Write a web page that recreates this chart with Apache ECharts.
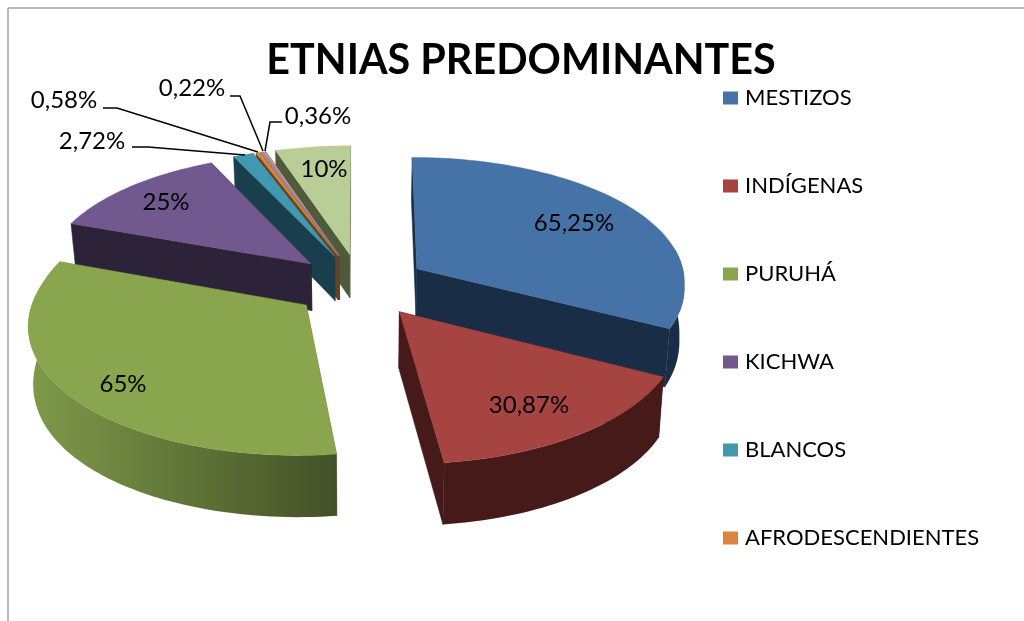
<!DOCTYPE html>
<html>
<head>
<meta charset="utf-8">
<style>html,body{margin:0;padding:0;background:#fff}#c{width:1024px;height:621px}</style>
<script src="https://cdn.jsdelivr.net/npm/echarts@6/dist/echarts.min.js"></script>
</head>
<body>
<div id="c"></div>
<script>
const titleText = 'ETNIAS PREDOMINANTES';
const categories = ['MESTIZOS','INDÍGENAS','PURUHÁ','KICHWA','BLANCOS','AFRODESCENDIENTES','Categoría 7','Categoría 8','Categoría 9'];
const legendNames = categories.slice(0,6);
const values = [65.25,30.87,65,25,2.72,0.58,0.22,0.36,10];
const valueLabels = ['65,25%','30,87%','65%','25%','2,72%','0,58%','0,22%','0,36%','10%'];
const topColors = ['#4572a7','#a64441','#89a54e','#71588f','#4198af','#db843d','#93a9cf','#d19392','#b9cd96'];
const wallColors = ['#1a2d47','#451a19','#6a8040','#2d2339','#193f4c','#6f411b','#3a4a60','#6a3a3a','#4f5a3b'];
const paintZ = [7,9,8,6,5,4,3,2,1];
const labelPos = [[574,223],[529,405],[123,384],[166,202],[92,141],[64,100],[192,88],[318,116],[324,169]];
const leaders = [null,null,null,null,
  [[132,147],[148,147],[245,155]],
  [[103,108],[117,108],[258,152]],
  [[230,96],[240,96],[263,151]],
  [[282,122],[270,122],[265,151]],
  null];

const CX=360, CY=285, RX=269, RY=127, EXPLODE=0.25;
const total = values.reduce((a,b)=>a+b,0);
const DEG = Math.PI/180;
function proj(u,v){
  const sx=1/(1-(v<0?0.09:0.13)*v), sy=1/(1-(v<0?0.11:0.12)*v);
  return {x:CX+RX*u*sx,y:CY+RY*v*sy,s:sy};
}
function low(p){
  const d=42+20*(1-Math.exp(-Math.max(0,p.s-0.97)*23));
  return [CX+(p.x-CX)*0.985,p.y+d];
}

function sliceItem(i){
  return function(params,api){
    const val=api.value(0);
    let before=0; for(let k=0;k<i;k++) before+=values[k];
    const a0=before/total*360, a1=(before+val)/total*360, mid=(a0+a1)/2*DEG;
    const du=Math.sin(mid)*EXPLODE, dv=-Math.cos(mid)*EXPLODE;
    const pt=(deg)=>proj(du+Math.sin(deg*DEG),dv-Math.cos(deg*DEG));
    const apex=proj(du,dv);
    const angles=[]; for(let a=a0;a<a1;a+=1.5) angles.push(a); angles.push(a1);
    const arc=angles.map(pt);
    const top=[[apex.x,apex.y]].concat(arc.map(p=>[p.x,p.y]));
    const kids=[];
    const wall=wallColors[i];
    const quad=(a,b,fill)=>kids.push({type:'polygon',shape:{points:[[a.x,a.y],[b.x,b.y],low(b),low(a)]},style:{fill:fill,stroke:fill,lineWidth:0.5}});
    quad(apex,arc[0],wall); quad(apex,arc[arc.length-1],wall);
    const front=[]; angles.forEach((a,k)=>{ if(a>=80&&a<=282) front.push(arc[k]); });
    if(front.length>1){
      const up=front.map(p=>[p.x,p.y]), dn=front.map(low).reverse();
      let fill=wall;
      if(i===2) fill={type:'linear',x:1,y:0,x2:0,y2:0,colorStops:[{offset:0,color:'#435126'},{offset:1,color:'#7f9a4a'}]};
      kids.push({type:'polygon',shape:{points:up.concat(dn)},style:{fill:fill}});
    }
    kids.push({type:'polygon',shape:{points:top},style:{fill:topColors[i],stroke:topColors[i],lineWidth:0.4}});
    if(leaders[i]) kids.push({type:'polyline',shape:{points:leaders[i]},style:{stroke:'#000',lineWidth:1.5,fill:null}});
    kids.push({type:'text',style:{text:valueLabels[i],x:labelPos[i][0],y:labelPos[i][1],fill:'#000',fontFamily:'Lato',fontSize:24,align:'center',verticalAlign:'middle'}});
    return {type:'group',children:kids};
  };
}

const chart=echarts.init(document.getElementById('c'),null,{renderer:'canvas'});
chart.setOption({
  animation:false,
  backgroundColor:'#fff',
  title:{text:titleText,left:516,top:35,textAlign:'center',textStyle:{fontFamily:'Lato',fontWeight:'bold',fontSize:41.3,color:'#000'}},
  legend:{orient:'vertical',left:718,top:82,itemWidth:15,itemHeight:13,itemGap:66,icon:'rect',data:legendNames,selectedMode:false,
    textStyle:{fontFamily:'Lato',fontSize:22,color:'#000',padding:[0,0,0,2]}},
  graphic:[
    {type:'line',silent:true,shape:{x1:8,y1:8,x2:1024,y2:8},style:{stroke:'#a0a0a0',lineWidth:1.5}},
    {type:'line',silent:true,shape:{x1:8,y1:8,x2:8,y2:621},style:{stroke:'#a0a0a0',lineWidth:1.5}}
  ],
  series:categories.map((name,i)=>({
    type:'custom',name:name,coordinateSystem:'none',z:paintZ[i],silent:true,
    itemStyle:{color:topColors[i]},
    data:[[values[i]]],
    renderItem:sliceItem(i)
  }))
});
</script>
</body>
</html>
